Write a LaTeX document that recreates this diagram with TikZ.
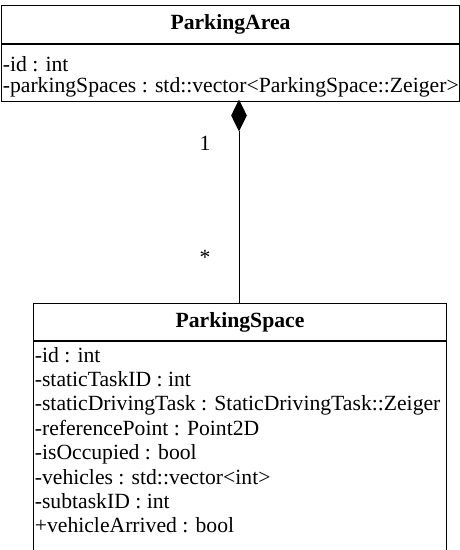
\documentclass[tikz,border=0pt]{standalone}
\usepackage{fontspec}
\setmainfont{Liberation Serif}
\usetikzlibrary{shapes.geometric,positioning}

\begin{document}
\begin{tikzpicture}[
    x=0.75pt, y=-0.75pt,
    font=\fontsize{16.25}{19}\selectfont,
    line width=0.75pt,
    % Styles
    classhead/.style={
        rectangle,
        draw=black,
        inner sep=0pt,
        font=\fontsize{16.25}{19}\selectfont\bfseries
    },
    attrbox/.style={
        rectangle,
        draw=black,
        inner sep=0pt,
        anchor=north west
    },
    attrtext/.style={
        anchor=base west,
        inner sep=1pt
    },
    compose/.style={
        diamond,
        draw=black,
        fill=black,
        inner sep=0pt,
        minimum width=11.25pt,
        minimum height=22.5pt
    }
]
\useasboundingbox (0,0) rectangle (460,550);

% --- ParkingArea ---
\node[classhead, minimum width=343.5pt, minimum height=28.5pt, anchor=north west] (areahead) at (1,5) {ParkingArea};
\node[attrbox, minimum width=343.5pt, minimum height=42.75pt] (areaattr) at (areahead.south west) {};
\node[attrtext] (areaid) at (1,71) {-id : int};
\node[attrtext] (areaspaces) at (1,92) {-parkingSpaces : std::vector<ParkingSpace::Zeiger>};

% --- ParkingSpace ---
\node[classhead, minimum width=309.75pt, minimum height=27.75pt, anchor=north west] (spacehead) at (33,303) {ParkingSpace};
\node[attrbox, minimum width=309.75pt, minimum height=165pt] (spaceattr) at (spacehead.south west) {};
\foreach \txt [count=\i from 0] in {
    -id : int,
    -staticTaskID : int,
    -staticDrivingTask : StaticDrivingTask::Zeiger,
    -referencePoint : Point2D,
    -isOccupied : bool,
    -vehicles : std::vector<int>,
    -subtaskID : int,
    +vehicleArrived : bool}
    \node[attrtext] (spaceline\i) at (33,{362+24.4*\i}) {\txt};

% --- Composition ---
\node[compose, anchor=north] (diam) at (239,100) {};
\coordinate (spacetop) at (239,303);
\draw (diam.south) -- (spacetop);
\node (multone) at (205,143) {1};
\node (multmany) at (205,257) {*};

\end{tikzpicture}
\end{document}
